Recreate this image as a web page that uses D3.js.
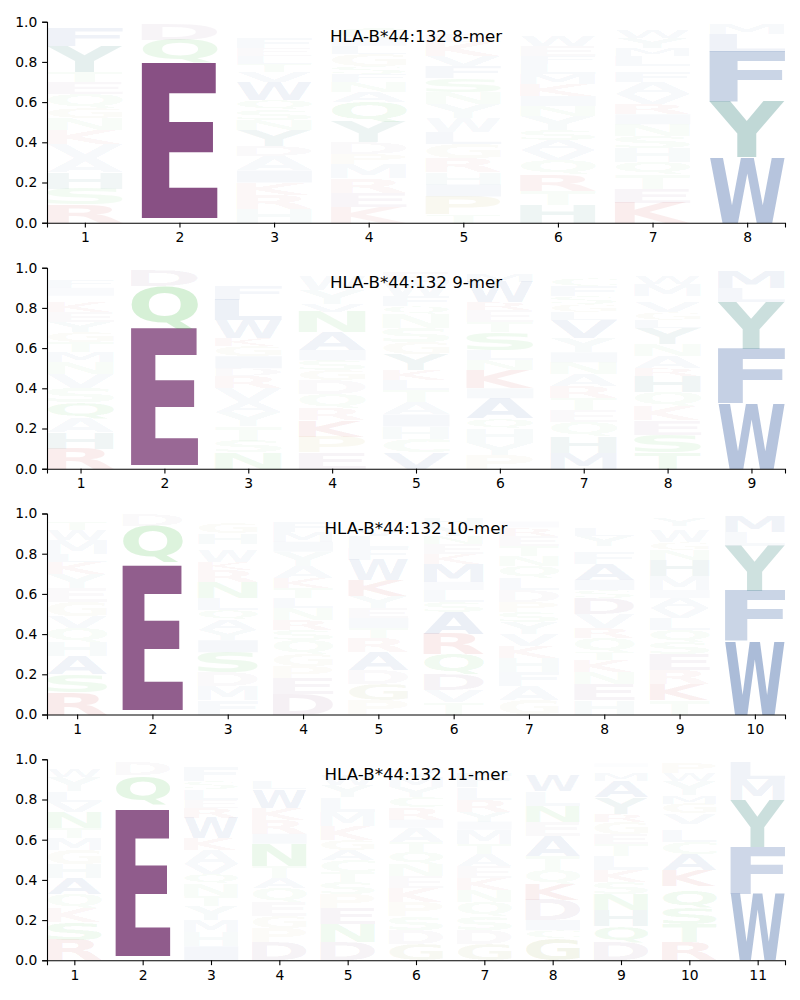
<!DOCTYPE html>
<html><head><meta charset="utf-8">
<script src="https://cdn.jsdelivr.net/npm/d3@7"></script>
<style>body{margin:0;background:#fff} svg{display:block}</style>
</head><body>
<svg id="chart" width="800" height="1000"></svg>
<script>
// ---------- data ----------
const titles = ["HLA-B*44:132 8-mer", "HLA-B*44:132 9-mer", "HLA-B*44:132 10-mer", "HLA-B*44:132 11-mer"];
const yTicks = [0, 0.2, 0.4, 0.6, 0.8, 1.0];

// each position: stack from bottom to top, [residue, frequency]
const logo8 = [
  [["R",.09],["S",.08],["H",.08],["A",.07],["V",.07],["K",.07],["N",.06],["G",.05],["Q",.07],["E",.06],["T",.05],["Y",.13],["F",.09]],
  [["A",.01],["S",.015],["E",.77],["Q",.115],["D",.08]],
  [["H",.07],["R",.07],["K",.06],["I",.06],["A",.07],["D",.05],["Y",.08],["N",.05],["S",.05],["Q",.05],["W",.09],["V",.05],["T",.04],["L",.04],["E",.04],["F",.05]],
  [["K",.08],["E",.07],["R",.07],["M",.07],["P",.05],["D",.06],["Y",.1],["Q",.1],["A",.05],["N",.05],["F",.04],["S",.04],["G",.06],["L",.04],["I",.04],["C",.05]],
  [["T",.04],["P",.09],["I",.06],["H",.06],["R",.07],["G",.07],["L",.06],["W",.07],["Y",.07],["N",.06],["S",.07],["F",.06],["V",.05],["K",.07],["E",.04],["M",.03]],
  [["H",.09],["T",.07],["R",.08],["Q",.07],["V",.05],["A",.05],["S",.05],["Y",.07],["N",.05],["I",.05],["K",.06],["M",.05],["L",.05],["F",.04],["E",.05],["W",.05],["C",.03]],
  [["K",.1],["E",.07],["T",.07],["Q",.06],["H",.07],["S",.06],["N",.06],["I",.05],["R",.05],["V",.05],["A",.06],["F",.05],["G",.03],["L",.05],["M",.04],["Y",.05],["W",.04]],
  [["W",.325],["Y",.275],["F",.25],["L",.09],["M",.05]]
];
const logo9 = [
  [["R",.1],["H",.08],["A",.07],["Q",.08],["S",.07],["V",.07],["N",.06],["M",.05],["T",.05],["G",.05],["Y",.05],["E",.05],["K",.05],["L",.03],["I",.04],["F",.04],["C",.02],["W",.02]],
  [["A",.008],["S",.008],["E",.68],["Q",.215],["D",.08]],
  [["N",.08],["S",.06],["T",.07],["Y",.07],["A",.05],["V",.07],["R",.06],["D",.04],["I",.06],["G",.05],["K",.04],["W",.09],["L",.1],["F",.07],["Q",.03],["E",.02],["C",.02]],
  [["E",.08],["P",.08],["K",.08],["R",.06],["Q",.07],["D",.07],["G",.05],["S",.05],["I",.05],["A",.09],["N",.1],["V",.04],["Y",.07],["W",.07],["F",.02]],
  [["V",.08],["C",.07],["H",.06],["I",.06],["A",.06],["T",.06],["L",.05],["K",.05],["Y",.08],["G",.06],["S",.07],["N",.07],["Q",.04],["F",.05],["W",.07],["E",.05]],
  [["P",.07],["Y",.06],["H",.07],["Q",.05],["A",.1],["I",.05],["K",.09],["N",.05],["L",.05],["S",.09],["T",.05],["E",.06],["R",.04],["W",.1],["M",.04]],
  [["M",.08],["H",.08],["Q",.07],["E",.06],["T",.06],["R",.06],["A",.06],["N",.06],["I",.05],["Y",.07],["V",.09],["L",.04],["G",.04],["S",.04],["F",.05],["C",.04],["W",.03]],
  [["T",.08],["S",.09],["E",.07],["K",.07],["Q",.07],["H",.08],["R",.04],["A",.06],["N",.06],["Y",.08],["L",.04],["G",.04],["V",.05],["D",.03],["M",.06],["W",.04],["F",.02]],
  [["W",.325],["F",.27],["Y",.235],["L",.07],["M",.085]]
];
const logo10 = [
  [["R",.11],["S",.09],["A",.09],["H",.07],["Q",.07],["V",.06],["G",.07],["E",.07],["Y",.07],["K",.06],["L",.04],["M",.07],["W",.05],["T",.04],["F",.02]],
  [["A",.01],["S",.01],["E",.72],["N",.02],["Q",.18],["D",.055]],
  [["F",.07],["M",.07],["D",.07],["S",.1],["I",.06],["Y",.05],["A",.05],["Q",.05],["L",.06],["N",.08],["R",.06],["K",.04],["W",.06],["E",.03],["H",.05],["G",.05],["T",.03]],
  [["D",.1],["E",.08],["P",.06],["G",.06],["Q",.07],["S",.05],["R",.05],["N",.06],["L",.05],["T",.05],["K",.05],["A",.06],["Y",.07],["I",.05],["M",.05],["F",.05],["V",.02]],
  [["P",.07],["G",.08],["D",.07],["A",.09],["R",.07],["T",.05],["I",.05],["E",.05],["Y",.06],["K",.08],["W",.1],["F",.06],["L",.06],["V",.04],["S",.03],["N",.02]],
  [["T",.06],["V",.06],["D",.08],["Q",.1],["R",.1],["A",.11],["S",.05],["L",.06],["I",.04],["M",.09],["K",.05],["E",.05],["N",.04],["Y",.05],["H",.04]],
  [["G",.07],["A",.07],["F",.07],["H",.07],["K",.06],["V",.06],["Y",.06],["S",.05],["P",.05],["D",.06],["L",.06],["Q",.06],["N",.05],["T",.05],["E",.05],["R",.04],["I",.03]],
  [["H",.07],["E",.08],["N",.06],["K",.06],["T",.04],["Q",.07],["R",.05],["V",.07],["D",.08],["S",.04],["I",.05],["A",.08],["F",.06],["G",.03],["Y",.05],["L",.04],["W",.02],["C",.02]],
  [["T",.07],["K",.08],["R",.07],["E",.08],["S",.06],["Q",.06],["L",.06],["V",.05],["A",.05],["I",.04],["M",.07],["H",.08],["N",.05],["G",.04],["W",.06],["F",.02],["Y",.04]],
  [["W",.365],["F",.25],["Y",.225],["L",.07],["M",.08]]
];
const logo11 = [
  [["R",.1],["S",.09],["K",.07],["Q",.07],["A",.08],["H",.07],["G",.07],["M",.06],["T",.05],["N",.08],["V",.05],["L",.05],["Y",.07],["W",.04],["C",.02]],
  [["A",.01],["S",.01],["E",.725],["N",.03],["Q",.145],["D",.065]],
  [["I",.07],["H",.07],["M",.06],["Y",.07],["T",.05],["N",.06],["Q",.05],["V",.05],["A",.07],["K",.06],["W",.1],["R",.05],["E",.04],["L",.05],["S",.04],["F",.07]],
  [["D",.09],["P",.07],["G",.06],["E",.07],["Q",.07],["A",.05],["T",.06],["N",.11],["I",.05],["R",.07],["K",.06],["W",.09],["L",.04],["M",.03],["S",.03],["Y",.03]],
  [["D",.09],["N",.09],["E",.08],["P",.07],["S",.06],["T",.05],["C",.06],["A",.05],["G",.05],["K",.07],["M",.07],["L",.07],["Y",.06],["W",.05],["V",.03],["F",.02]],
  [["G",.08],["D",.07],["S",.07],["P",.07],["K",.07],["E",.06],["N",.06],["Q",.06],["T",.05],["A",.07],["I",.04],["R",.06],["C",.05],["Y",.05],["M",.05],["V",.04],["L",.02]],
  [["G",.08],["D",.07],["S",.07],["Q",.07],["N",.06],["K",.06],["E",.06],["A",.06],["T",.05],["M",.07],["I",.04],["Y",.05],["R",.06],["L",.06],["F",.07],["V",.03],["H",.02]],
  [["G",.11],["C",.04],["I",.05],["D",.1],["K",.08],["Q",.07],["T",.07],["A",.1],["E",.07],["N",.08],["L",.07],["W",.08],["S",.03],["Y",.03]],
  [["D",.09],["Q",.08],["H",.08],["N",.08],["S",.06],["K",.06],["L",.07],["T",.06],["E",.05],["G",.06],["R",.04],["Y",.08],["A",.08],["M",.04],["F",.03],["I",.02]],
  [["R",.09],["T",.09],["S",.08],["Q",.09],["N",.02],["K",.08],["A",.08],["C",.06],["L",.06],["E",.03],["V",.05],["G",.05],["M",.04],["Y",.07],["W",.04],["P",.05]],
  [["W",.33],["F",.235],["Y",.235],["M",.1],["L",.085]]
];
const panels = [logo8, logo9, logo10, logo11];

// residue colour groups
const acidic = ["D","E"];
const hydrophobic = ["A","V","L","I","M","F","W"];
const aromaticPolar = ["Y","H"];
const polar = ["S","T","N","Q","C"];
const basic = ["R","K"];
const glycine = ["G"];
const proline = ["P"];

// ---------- styles ----------
const colorOf = {};
acidic.forEach(a => colorOf[a] = "rgb(125,64,120)");
hydrophobic.forEach(a => colorOf[a] = "rgb(30,75,150)");
aromaticPolar.forEach(a => colorOf[a] = "rgb(20,110,100)");
polar.forEach(a => colorOf[a] = "rgb(45,180,45)");
basic.forEach(a => colorOf[a] = "rgb(190,30,30)");
glycine.forEach(a => colorOf[a] = "rgb(130,150,50)");
proline.forEach(a => colorOf[a] = "rgb(170,150,40)");

const FONT = "'DejaVu Sans', 'Liberation Sans', sans-serif";
const left = 47, right = 785, H = 201;
const tops = [21.7, 267.7, 513.5, 759.3];
const tickLen = 4.86, tickPad = 4.86;

// glyph metrics via canvas
const cv = document.createElement("canvas");
const ctx = cv.getContext("2d");
ctx.font = "bold 100px 'DejaVu Sans'";
const gm = {};
function glyph(ch) {
  if (!gm[ch]) {
    const m = ctx.measureText(ch);
    gm[ch] = {l: m.actualBoundingBoxLeft, r: m.actualBoundingBoxRight,
              a: m.actualBoundingBoxAscent, d: m.actualBoundingBoxDescent};
  }
  return gm[ch];
}

const svg = d3.select("#chart");
const alpha = h => Math.min(1, 1.25 * Math.pow(h, 1.2));

panels.forEach((data, pi) => {
  const n = data.length;
  const top = tops[pi];
  const x = d3.scaleLinear().domain([0.6, n + 0.4]).range([left, right]);
  const y = d3.scaleLinear().domain([0, 1]).range([top + H, top]);
  const g = svg.append("g");

  // letters
  data.forEach((stack, i) => {
    const pos = i + 1;
    let cum = 0;
    stack.forEach(([ch, h]) => {
      const y0 = cum, y1 = cum + h;
      cum = y1;
      const m = glyph(ch);
      const bx = x(pos - 0.4), bw = x(pos + 0.4) - x(pos - 0.4);
      const by = y(y1), bh = y(y0) - y(y1);
      const sx = bw / (m.l + m.r), sy = bh / (m.a + m.d);
      g.append("text")
        .attr("transform", `translate(${bx},${by}) scale(${sx},${sy})`)
        .attr("x", m.l).attr("y", m.a)
        .attr("font-family", "'DejaVu Sans'")
        .attr("font-weight", "bold")
        .attr("font-size", 100)
        .attr("fill", colorOf[ch])
        .attr("fill-opacity", alpha(h))
        .text(ch);
    });
  });

  // axes
  const ya = g.append("g").attr("transform", `translate(${left},0)`)
    .call(d3.axisLeft(y).tickValues(yTicks).tickFormat(d3.format(".1f"))
      .tickSizeOuter(0).tickSize(tickLen).tickPadding(tickPad));
  const xa = g.append("g").attr("transform", `translate(0,${top + H})`)
    .call(d3.axisBottom(x).tickValues(d3.range(1, n + 1)).tickFormat(d3.format("d"))
      .tickSizeOuter(0).tickSize(tickLen).tickPadding(tickPad));
  [ya, xa].forEach(a => {
    a.attr("font-family", FONT).attr("font-size", 13.89);
    a.selectAll("path.domain").attr("stroke", "#000").attr("stroke-width", 1.1);
    a.selectAll(".tick line").attr("stroke", "#000").attr("stroke-width", 1.1);
    a.selectAll(".tick text").attr("fill", "#000");
  });

  // title
  g.append("text")
    .attr("x", (left + right) / 2).attr("y", top + 20.6)
    .attr("text-anchor", "middle")
    .attr("font-family", FONT).attr("font-size", 16.67)
    .attr("fill", "#000")
    .text(titles[pi]);
});
</script>
</body></html>
